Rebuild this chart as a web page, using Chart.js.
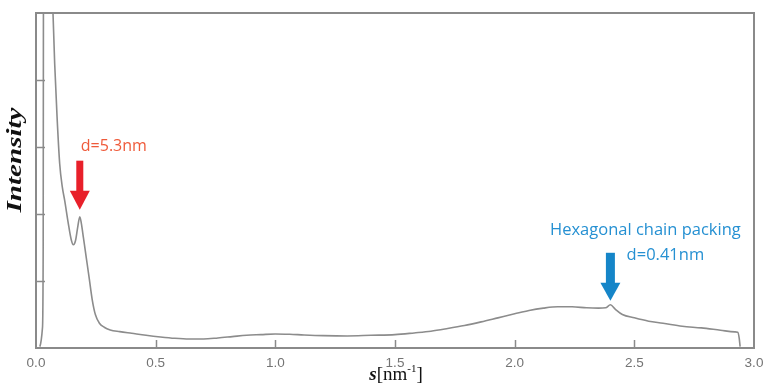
<!DOCTYPE html>
<html>
<head>
<meta charset="utf-8">
<script src="https://cdn.jsdelivr.net/npm/chart.js@4/dist/chart.umd.min.js"></script>
<style>
	html, body { margin: 0; padding: 0; background: #fff; }
	#wrap { width: 764px; height: 390px; position: relative; }
</style>
</head>
<body>
<div id="wrap"><canvas id="main-chart" width="764" height="390"></canvas></div>
<script>
// scattering vector s [nm^-1]
var sValues = [0.016, 0.027, 0.030, 0.031, 0.034, 0.045, 0.060, 0.071, 0.078, 0.088, 0.099,
	0.110, 0.120, 0.134, 0.147, 0.156, 0.165, 0.175, 0.183, 0.190, 0.198,
	0.210, 0.222, 0.235, 0.248, 0.265, 0.285, 0.310, 0.350, 0.400, 0.460,
	0.520, 0.580, 0.640, 0.700, 0.760, 0.820, 0.880, 0.940, 1.000, 1.060,
	1.120, 1.200, 1.300, 1.400, 1.500, 1.580, 1.650, 1.720, 1.790, 1.860,
	1.930, 2.000, 2.060, 2.120, 2.180, 2.240, 2.300, 2.350, 2.380, 2.400,
	2.420, 2.450, 2.500, 2.560, 2.620, 2.700, 2.780, 2.860, 2.920, 2.932,
	2.938, 2.942];
// intensity (arb. units)
var intensity = [0.02, 0.30, 1.50, 5.00, 8.50, 9.00, 6.50, 5.00, 4.25, 3.45, 2.75,
	2.40, 2.20, 1.88, 1.62, 1.54, 1.60, 1.82, 1.96, 1.85, 1.65,
	1.35, 1.05, 0.72, 0.50, 0.37, 0.31, 0.27, 0.245, 0.22, 0.19,
	0.165, 0.145, 0.135, 0.135, 0.15, 0.17, 0.19, 0.20, 0.21, 0.205,
	0.195, 0.185, 0.18, 0.19, 0.20, 0.225, 0.25, 0.29, 0.335, 0.39,
	0.45, 0.51, 0.56, 0.595, 0.615, 0.615, 0.60, 0.595, 0.60, 0.645,
	0.58, 0.50, 0.45, 0.40, 0.37, 0.325, 0.30, 0.265, 0.24, 0.235,
	0.15, 0.02];
var xTicks = [0, 0.5, 1.0, 1.5, 2.0, 2.5, 3.0];
var yTicks = [1, 2, 3, 4];
// peaks marked with arrows: [s, intensity, label lines]
var peakSmall = [0.183, 1.96, ['d=5.3nm']];
var peakWide = [2.40, 0.645, ['Hexagonal chain packing', 'd=0.41nm']];

var points = sValues.map(function (s, i) { return { x: s, y: intensity[i] }; });

function arrowDown(ctx, x, tipY, shaftW, shaftLen, headW, headH, color) {
	ctx.save();
	ctx.fillStyle = color;
	ctx.fillRect(x - shaftW / 2, tipY - headH - shaftLen, shaftW, shaftLen + 1);
	ctx.beginPath();
	ctx.moveTo(x - headW / 2, tipY - headH);
	ctx.lineTo(x + headW / 2, tipY - headH);
	ctx.lineTo(x, tipY);
	ctx.closePath();
	ctx.fill();
	ctx.restore();
}

var decorations = {
	id: 'decorations',
	afterDraw: function (chart) {
		var ctx = chart.ctx;
		var area = chart.chartArea;
		var xs = chart.scales.x;
		var ys = chart.scales.y;
		ctx.save();

		// frame
		ctx.strokeStyle = '#8a8a8a';
		ctx.lineWidth = 2;
		ctx.strokeRect(area.left, area.top, area.right - area.left, area.bottom - area.top);

		// inward tick marks
		ctx.lineWidth = 1.5;
		ctx.beginPath();
		xTicks.forEach(function (t) {
			if (t <= 0 || t >= 3) return;
			var px = Math.round(xs.getPixelForValue(t)) + 0.5;
			ctx.moveTo(px, area.bottom);
			ctx.lineTo(px, area.bottom - 8);
		});
		yTicks.forEach(function (t) {
			var py = Math.round(ys.getPixelForValue(t)) + 0.5;
			ctx.moveTo(area.left, py);
			ctx.lineTo(area.left + 9, py);
		});
		ctx.stroke();

		// y title, stretched along the axis
		ctx.save();
		ctx.translate(22, 160);
		ctx.rotate(-Math.PI / 2);
		ctx.font = 'italic bold 20px "Liberation Serif"';
		var w = ctx.measureText('Intensity').width;
		ctx.scale(105 / w, 1);
		ctx.fillStyle = '#111';
		ctx.textAlign = 'center';
		ctx.textBaseline = 'alphabetic';
		ctx.fillText('Intensity', 0, -1);
		ctx.restore();

		// x title  s[nm^-1]
		ctx.fillStyle = '#111';
		ctx.textBaseline = 'alphabetic';
		ctx.textAlign = 'left';
		var fb = 'italic bold 19px "Liberation Serif"';
		var fn = '19px "Liberation Serif"';
		var fs = '11px "Liberation Serif"';
		ctx.font = fb; var w1 = ctx.measureText('s').width;
		ctx.font = fn; var w2 = ctx.measureText('[nm').width; var w4 = ctx.measureText(']').width;
		ctx.font = fs; var w3 = ctx.measureText('-1').width;
		var tx = (area.left + area.right) / 2 - (w1 + w2 + w3 + w4) / 2 + 1;
		var by = 380;
		ctx.font = fb; ctx.fillText('s', tx, by); tx += w1;
		ctx.font = fn; ctx.fillText('[nm', tx, by); tx += w2;
		ctx.font = fs; ctx.fillText('-1', tx, by - 8); tx += w3;
		ctx.font = fn; ctx.fillText(']', tx, by);

		// red marker at the small-angle peak
		var rx = xs.getPixelForValue(peakSmall[0]);
		var rTip = ys.getPixelForValue(peakSmall[1]) - 7;
		arrowDown(ctx, rx, rTip, 7, 30, 20, 19, '#e8202a');
		ctx.font = '16px "Open Sans"';
		ctx.fillStyle = '#ef5a3a';
		ctx.textAlign = 'left';
		ctx.textBaseline = 'middle';
		ctx.fillText(peakSmall[2][0], rx + 1, rTip - 63);

		// blue marker at the wide-angle peak
		var bx = xs.getPixelForValue(peakWide[0]);
		var bTip = ys.getPixelForValue(peakWide[1]) - 4;
		arrowDown(ctx, bx, bTip, 9, 30, 20, 18, '#1585c8');
		ctx.font = '16.5px "Open Sans"';
		ctx.fillStyle = '#2590d2';
		ctx.textAlign = 'center';
		ctx.fillText(peakWide[2][0], bx + 35, bTip - 70);
		ctx.fillText(peakWide[2][1], bx + 55, bTip - 45);

		ctx.restore();
	}
};

var ctx = document.getElementById('main-chart');
var chart = new Chart(ctx, {
	type: 'line',
	data: {
		datasets: [{
			data: points,
			borderColor: '#8c8c8c',
			borderWidth: 1.6,
			pointRadius: 0,
			fill: false,
			cubicInterpolationMode: 'monotone'
		}]
	},
	options: {
		responsive: false,
		animation: false,
		layout: { padding: { left: 36, right: 10, top: 13, bottom: 0 } },
		plugins: { legend: { display: false }, tooltip: { enabled: false } },
		scales: {
			x: {
				type: 'linear',
				min: 0,
				max: 3,
				grid: { display: false, drawTicks: false },
				border: { display: false },
				afterFit: function (axis) {
					// keep the plot box fixed, labels may overhang
					axis.paddingLeft = 0;
					axis.paddingRight = 0;
					axis.height = 42;
				},
				ticks: {
					stepSize: 0.5,
					padding: 7,
					color: '#747474',
					font: { family: '"Liberation Sans"', size: 13.5 },
					callback: function (v) { return v.toFixed(1); }
				}
			},
			y: {
				display: false,
				min: 0,
				max: 5
			}
		}
	},
	plugins: [decorations]
});
</script>
</body>
</html>
